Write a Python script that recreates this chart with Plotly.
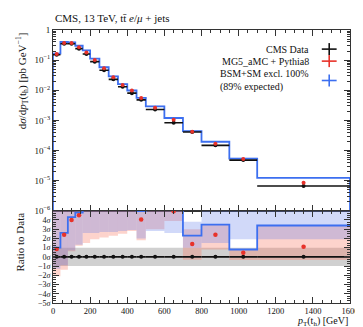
import plotly.graph_objects as go
from plotly.subplots import make_subplots
import numpy as np

# ---------------- data ----------------
edges = [0, 40, 80, 120, 160, 200, 250, 300, 350, 400, 450, 500, 600, 700, 800, 950, 1100, 1600]
data_vals = [0.15, 0.35, 0.35, 0.24, 0.16, 0.089, 0.046, 0.023, 0.013, 0.0080, 0.0048, 0.0023,
             0.00083, 0.00041, 0.000148, 4.8e-5, 6.6e-6]
mc_vals = [0.16, 0.37, 0.37, 0.27, 0.18, 0.10, 0.054, 0.027, 0.015, 0.0098, 0.0055, 0.0026,
           0.00105, 0.00042, 0.000167, 5.2e-5, 8.5e-6]
bsm_vals = [0.165, 0.40, 0.39, 0.30, 0.21, 0.112, 0.058, 0.029, 0.016, 0.0098, 0.0056, 0.0029,
            0.0012, 0.00044, 0.000195, 5.4e-5, 1.24e-5]
data_relerr = [0.04] * 17

# ratio panel, in units of sigma
mc_sig = [0.85, 2.4, 4.0, 4.5, 6, 6, 6, 6, 6, 6, 4.05, 6, 4.95, 1.4, 2.4, 0.45, 1.1]
bsm_sig = [1.0, 2.6, 4.3, 4.8, 6, 6, 6, 6, 6, 6, 4.95, 6, 6, 2.3, 3.5, 0.8, 3.4]
mc_band_lo = [-2.1, -1.4, 0.6, 1.2, 1.5, 1.9, 2.1, 2.3, 2.5, 2.8, 1.8, 3.0, 3.9, -0.3, 0.8, -0.35, -0.35]
mc_band_hi = [6, 6, 6, 6, 6, 6, 6, 6, 6, 6, 6, 6, 6, 3.0, 3.5, 0.8, 3.4]
bsm_band_lo = [-1.3, -0.9, 0.7, 1.3, 2.6, 2.6, 2.7, 2.7, 2.8, 2.9, 2.0, 2.8, 2.6, 1.0, 1.5, 1.9, 1.9]
bsm_band_hi = [6, 6, 6, 6, 6, 6, 6, 6, 6, 6, 6, 6, 6, 3.8, 6, 6, 6]

x_ticks = [0, 200, 400, 600, 800, 1000, 1200, 1400, 1600]
sig_ticks = [-5, -4, -3, -2, -1, 0, 1, 2, 3, 4]

FONT = "Liberation Serif"
BLACK = "#111111"
RED = "#e8322a"
BLUE = "#3c6ff0"

edges_a = np.array(edges, dtype=float)
centers = (edges_a[:-1] + edges_a[1:]) / 2
halfw = (edges_a[1:] - edges_a[:-1]) / 2


def step_xy(vals):
    xs, ys = [], []
    for i, v in enumerate(vals):
        xs += [edges[i], edges[i + 1]]
        ys += [v, v]
    return xs, ys


fig = make_subplots(rows=2, cols=1, shared_xaxes=True, vertical_spacing=0,
                    row_heights=[0.662, 0.338])


def add_band(lo, hi, color, row):
    for i in range(len(lo)):
        x0, x1 = edges[i], edges[i + 1]
        fig.add_trace(go.Scatter(x=[x0, x1, x1, x0, x0], y=[lo[i], lo[i], hi[i], hi[i], lo[i]],
                                 fill="toself", fillcolor=color, line=dict(width=0),
                                 mode="lines", hoverinfo="skip", showlegend=False), row=row, col=1)


# data band +-1 sigma
fig.add_trace(go.Scatter(x=[0, 1600, 1600, 0, 0], y=[-1, -1, 1, 1, -1], fill="toself",
                         fillcolor="rgba(150,150,150,0.45)", line=dict(width=0), mode="lines",
                         hoverinfo="skip", showlegend=False), row=2, col=1)
add_band(mc_band_lo, mc_band_hi, "rgba(250,120,100,0.33)", 2)
add_band(bsm_band_lo, bsm_band_hi, "rgba(90,120,235,0.28)", 2)

# ---------- main panel ----------
bx, by = step_xy(bsm_vals)
by_hi = [v * 1.06 for v in by]
fig.add_trace(go.Scatter(x=bx, y=by_hi, mode="lines", line=dict(width=0), hoverinfo="skip",
                         showlegend=False), row=1, col=1)
fig.add_trace(go.Scatter(x=bx, y=by, mode="lines", line=dict(width=0), fill="tonexty",
                         fillcolor="rgba(90,130,240,0.3)", hoverinfo="skip", showlegend=False),
              row=1, col=1)
fig.add_trace(go.Scatter(x=[0] + bx[:1] + bx + [1600], y=[1e-9, by[0]] + by + [1e-9], mode="lines",
                         line=dict(color=BLUE, width=1.8), hoverinfo="skip", showlegend=False),
              row=1, col=1)

fig.add_trace(go.Scatter(x=centers, y=data_vals, mode="markers",
                         marker=dict(color=BLACK, size=4),
                         error_x=dict(type="data", array=halfw, color=BLACK, thickness=1.6, width=0),
                         error_y=dict(type="data", array=[v * e for v, e in zip(data_vals, data_relerr)],
                                      color=BLACK, thickness=1.4, width=0),
                         showlegend=False), row=1, col=1)
fig.add_trace(go.Scatter(x=centers, y=mc_vals, mode="markers",
                         marker=dict(color=RED, size=4),
                         error_y=dict(type="data", array=[v * 0.05 for v in mc_vals],
                                      color=RED, thickness=1.2, width=0),
                         showlegend=False), row=1, col=1)

# ---------- ratio panel lines ----------
rx, ry = step_xy(bsm_sig)
fig.add_trace(go.Scatter(x=rx, y=ry, mode="lines", line=dict(color=BLUE, width=1.8),
                         hoverinfo="skip", showlegend=False), row=2, col=1)
fig.add_trace(go.Scatter(x=centers, y=[0] * len(centers), mode="markers",
                         marker=dict(color=BLACK, size=4),
                         error_x=dict(type="data", array=halfw, color=BLACK, thickness=1.6, width=0),
                         showlegend=False), row=2, col=1)
fig.add_trace(go.Scatter(x=centers, y=mc_sig, mode="markers", marker=dict(color=RED, size=4.5),
                         cliponaxis=True, showlegend=False), row=2, col=1)

# ---------- axes ----------
maj = [10.0 ** k for k in range(-6, 1)]
maj_txt = ["10<sup>−6</sup>", "10<sup>−5</sup>", "10<sup>−4</sup>", "10<sup>−3</sup>",
           "10<sup>−2</sup>", "10<sup>−1</sup>", "1"]
minor_log = [m * 10.0 ** k for k in range(-6, 0) for m in range(2, 10)]

axis_common = dict(showline=True, linecolor="#333", linewidth=1, mirror="ticks",
                   ticks="inside", tickcolor="#333", showgrid=False, zeroline=False)

fig.update_yaxes(type="log", range=[-6, 0], tickvals=maj, ticktext=maj_txt, ticklen=6,
                 tickfont=dict(family=FONT, size=9, color="#111"),
                 minor=dict(tickvals=minor_log, ticks="inside", ticklen=3, tickcolor="#333"),
                 row=1, col=1, **axis_common)
fig.update_yaxes(range=[-5, 5], tickvals=sig_ticks,
                 ticktext=[("−%d<i>σ</i>" % -v) if v < 0 else ("%d<i>σ</i>" % v) for v in sig_ticks],
                 tickfont=dict(family=FONT, size=8, color="#111"),
                 ticklen=6, minor=dict(dtick=0.25, ticks="inside", ticklen=3, tickcolor="#333"),
                 row=2, col=1, **axis_common)
fig.update_xaxes(range=[0, 1600], tickvals=x_ticks, ticklen=6,
                 tickfont=dict(family=FONT, size=8.5, color="#111"),
                 minor=dict(dtick=50, ticks="inside", ticklen=3, tickcolor="#333"),
                 **axis_common)
fig.update_xaxes(showticklabels=False, row=1, col=1)

# ---------- texts ----------
ann = []
ann.append(dict(text="CMS, 13 TeV, tt\u0304 <i>e</i>/<i>μ</i> + jets", x=0, y=1.015, xref="paper",
                yref="paper", xanchor="left", yanchor="bottom", showarrow=False,
                font=dict(family=FONT, size=11, color="#111")))
ann.append(dict(text="<i>p</i><sub>T</sub>(t<sub>h</sub>) [GeV]", x=1, y=-0.038, xref="paper",
                yref="paper", xanchor="right", yanchor="top", showarrow=False,
                font=dict(family=FONT, size=10, color="#111")))
ann.append(dict(text="d<i>σ</i>/d<i>p</i><sub>T</sub>(t<sub>h</sub>) [pb GeV<sup>−1</sup>]",
                x=-0.105, y=1, xref="paper", yref="paper", xanchor="center", yanchor="top",
                textangle=-90, showarrow=False, font=dict(family=FONT, size=11, color="#111")))
ann.append(dict(text="Ratio to Data", x=-0.11, y=0.338, xref="paper", yref="paper",
                xanchor="center", yanchor="top", textangle=-90, showarrow=False,
                font=dict(family=FONT, size=11, color="#111")))

leg = [("CMS Data", BLACK, 0.93), ("MG5_aMC + Pythia8", RED, 0.886),
       ("BSM+SM excl. 100%<br>(89% expected)", BLUE, 0.815)]
shapes = []
for txt, col, yy in leg:
    ann.append(dict(text=txt, x=0.87, y=yy, xref="paper", yref="paper", xanchor="right",
                    yanchor="middle", align="left", showarrow=False,
                    font=dict(family=FONT, size=10, color="#111")))
    shapes.append(dict(type="line", xref="paper", yref="paper", x0=0.905, x1=0.955, y0=yy, y1=yy,
                       line=dict(color=col, width=1.6)))
    shapes.append(dict(type="line", xref="paper", yref="paper", x0=0.93, x1=0.93, y0=yy - 0.022,
                       y1=yy + 0.022, line=dict(color=col, width=1.6)))

fig.update_layout(width=363, height=327, margin=dict(l=45, r=12, t=22, b=32),
                  plot_bgcolor="white", paper_bgcolor="white", annotations=ann, shapes=shapes,
                  showlegend=False, font=dict(family=FONT))

fig.write_html("out.html")
